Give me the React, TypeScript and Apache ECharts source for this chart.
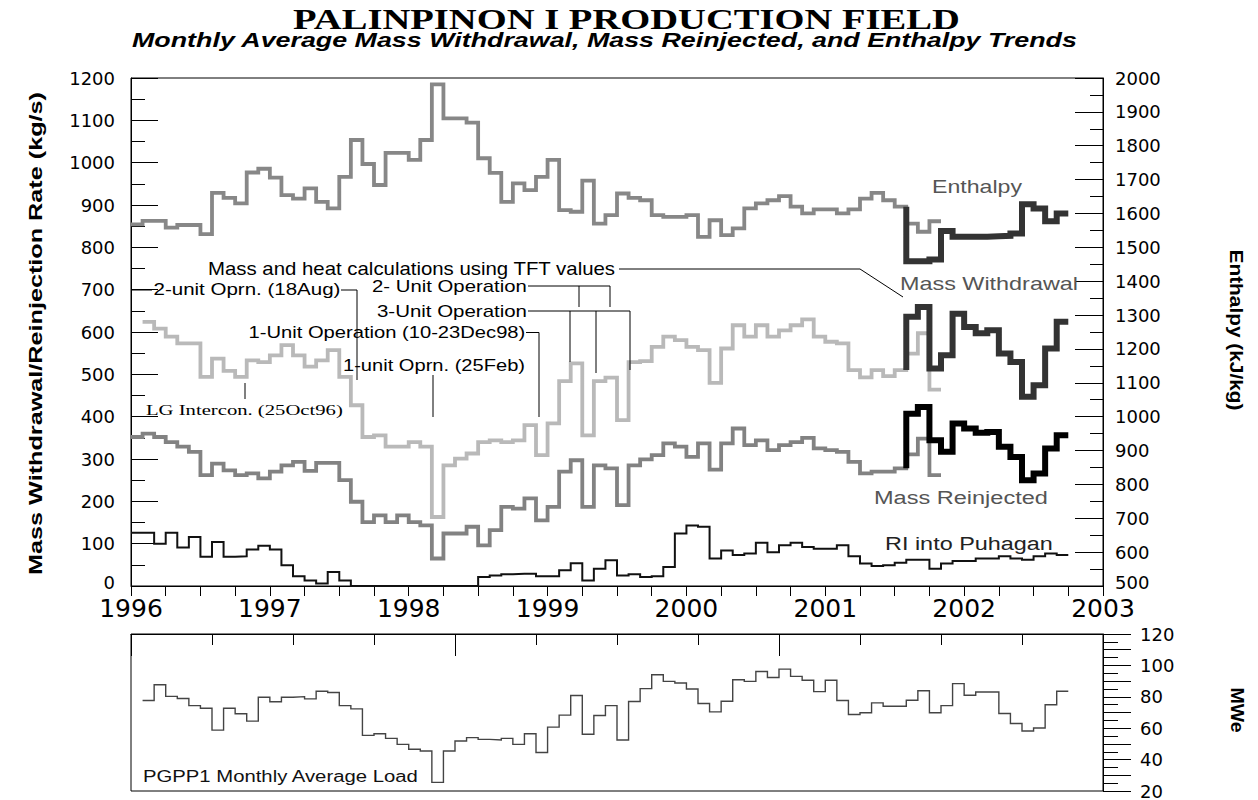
import React, { useEffect, useRef } from "react";
import * as echarts from "echarts";

// ---------- data (months counted from Jan 1996 = 0) ----------
const yearLabels = ["1996", "1997", "1998", "1999", "2000", "2001", "2002", "2003"];

// Enthalpy (kJ/kg), historical calc, months 0..69
const enthalpyStart = 0;
const enthalpy = [
  1568, 1578, 1578, 1558, 1566, 1566, 1539, 1661, 1646, 1630,
  1721, 1732, 1706, 1654, 1644, 1674, 1634, 1615, 1708, 1817,
  1746, 1684, 1779, 1779, 1758, 1817, 1981, 1881, 1881, 1868,
  1763, 1720, 1634, 1689, 1669, 1708, 1758, 1610, 1605, 1697,
  1570, 1595, 1659, 1646, 1639, 1595, 1590, 1590, 1595, 1531,
  1580, 1536, 1556, 1615, 1630, 1639, 1651, 1620, 1600, 1612,
  1612, 1600, 1612, 1644, 1661, 1639, 1620, 1570, 1546, 1577,
];
// Enthalpy using TFT values, months 67..80 (first value = starting level)
const enthalpyTFTStart = 67;
const enthalpyTFTFrom = 1620;
const enthalpyTFT = [1459, 1459, 1464, 1548, 1531, 1531, 1531, 1533, 1534, 1541, 1627, 1615, 1577, 1600];

// Mass withdrawal (kg/s), months 1..69
const withdrawalStart = 1;
const withdrawal = [
  624, 608, 589, 573, 573, 494, 537, 508, 494, 533,
  529, 545, 569, 545, 518, 533, 557, 494, 427, 352,
  356, 329, 329, 340, 329, 163, 285, 301, 313, 340,
  344, 340, 344, 380, 309, 384, 484, 526, 356, 484,
  492, 392, 529, 531, 565, 589, 581, 565, 557, 480,
  561, 616, 589, 616, 589, 604, 616, 630, 589, 577,
  573, 510, 493, 510, 496, 510, 549, 597, 464,
];
const withdrawalTFTStart = 67;
const withdrawalTFTFrom = 510;
const withdrawalTFT = [636, 659, 514, 545, 643, 612, 597, 604, 549, 529, 447, 474, 561, 624];

// Mass reinjected (kg/s), months 0..69
const reinjectedStart = 0;
const reinjected = [
  352, 360, 352, 340, 329, 317, 262, 289, 273, 262,
  266, 254, 270, 285, 293, 272, 291, 291, 250, 199,
  151, 167, 151, 167, 151, 143, 65, 124, 124, 140,
  96, 132, 187, 183, 207, 155, 187, 270, 297, 187,
  285, 278, 191, 285, 299, 309, 337, 329, 305, 337,
  275, 337, 372, 333, 344, 321, 333, 340, 350, 325,
  321, 317, 293, 266, 270, 270, 278, 311, 348, 262,
];
const reinjectedTFTStart = 67;
const reinjectedTFTFrom = 278;
const reinjectedTFT = [407, 423, 344, 317, 384, 372, 362, 364, 329, 305, 250, 266, 325, 356];

// RI into Puhagan (kg/s), months 0..80
const puhaganStart = 0;
const puhagan = [
  126, 126, 100, 126, 91, 116, 69, 104, 69, 70,
  86, 95, 86, 49, 23, 13, 6, 33, 13, 0,
  0, 0, 0, 0, 0, 0, 0, 0, 0, 0,
  21, 25, 28, 29, 29, 23, 23, 37, 54, 13,
  41, 61, 25, 28, 21, 23, 45, 124, 143, 140,
  65, 84, 73, 77, 102, 80, 96, 102, 92, 88,
  88, 96, 70, 53, 47, 49, 55, 62, 62, 41,
  53, 59, 59, 65, 65, 70, 65, 62, 70, 77,
  73,
];

// PGPP1 monthly average load (MWe), months 1..80
const loadStart = 1;
const load = [
  77.6, 87.7, 80.3, 78.9, 74.4, 72.7, 58.8, 72.7, 69.2, 64.5,
  79.7, 76.8, 79.7, 80.1, 78.7, 83.5, 82.7, 74.4, 72.3, 55.4,
  56.5, 53.5, 49.7, 46.6, 45.5, 25.5, 45.5, 51.8, 54, 52.9,
  52.5, 53.5, 49.7, 56.5, 44.5, 60.7, 68.3, 80.8, 56.1, 68.1,
  74.4, 52.5, 77, 85.2, 94, 89.8, 88.8, 85, 75.7, 70.4,
  77.2, 90.9, 89.8, 96.1, 92.3, 97.6, 93, 90.5, 83.3, 90.5,
  77.6, 68.7, 69.8, 76.1, 74, 74, 77.8, 83.9, 69.8, 74.4,
  88.4, 81, 83.1, 83.1, 69.4, 63, 58.2, 60.1, 74.9, 83.5,
];

// ---------- helpers ----------
const SANS = "'Liberation Sans', Arial, Helvetica, sans-serif";
const SERIF = "'Liberation Serif', 'Times New Roman', serif";
const AXISFONT = "'DejaVu Sans', sans-serif";

function stepData(start: number, values: number[], from?: number) {
  const pts: [number, number][] = [];
  if (from !== undefined) pts.push([start, from]);
  values.forEach((v, i) => pts.push([start + i, v]));
  pts.push([start + values.length, values[values.length - 1]]);
  return pts;
}

let measureCtx: CanvasRenderingContext2D | null = null;
function textWidth(text: string, font: string) {
  if (!measureCtx) measureCtx = document.createElement("canvas").getContext("2d");
  if (!measureCtx) return 0;
  measureCtx.font = font;
  return measureCtx.measureText(text).width;
}

type TextSpec = {
  text: string; x: number; y: number; width: number; size: number;
  weight?: string; italic?: boolean; family?: string; color?: string;
  align?: string; rotation?: number;
};

function txt(t: TextSpec) {
  const family = t.family ?? SANS;
  const weight = t.weight ?? "normal";
  const fstyle = t.italic ? "italic" : "normal";
  const font = `${fstyle} ${weight} ${t.size}px ${family}`;
  const w = textWidth(t.text, font);
  const sx = w > 0 ? t.width / w : 1;
  const align = t.align ?? "left";
  return {
    type: "text", x: t.x, y: t.y, rotation: t.rotation ?? 0, scaleX: sx, scaleY: 1,
    z: 100, silent: true,
    style: {
      text: t.text, fill: t.color ?? "#000", font,
      fontSize: t.size, fontFamily: family, fontWeight: weight, fontStyle: fstyle,
      align, verticalAlign: "middle", textAlign: align, textVerticalAlign: "middle",
    },
  };
}

function pl(points: number[][]) {
  return {
    type: "polyline", z: 100, silent: true,
    shape: { points },
    style: { stroke: "#000", lineWidth: 1, fill: null },
  };
}

function stepLine(name: string, data: [number, number][], xi: number, yi: number, color: string, width: number, z: number) {
  return {
    type: "line", name, data, xAxisIndex: xi, yAxisIndex: yi, step: "end",
    symbol: "none", showSymbol: false, silent: true, z,
    lineStyle: { color, width, cap: "butt", join: "miter" },
  };
}

function buildOption() {
  const texts = [
    txt({ text: "PALINPINON I PRODUCTION FIELD", x: 626.5, y: 18.5, width: 667, size: 30, weight: "bold", family: SERIF, align: "center" }),
    txt({ text: "Monthly Average Mass Withdrawal, Mass Reinjected, and Enthalpy Trends", x: 132, y: 40, width: 946, size: 20, weight: "bold", italic: true }),
    txt({ text: "Mass and heat calculations using TFT values", x: 208, y: 268.5, width: 408, size: 18 }),
    txt({ text: "2-unit Oprn. (18Aug)", x: 153.5, y: 289.5, width: 187, size: 17 }),
    txt({ text: "2- Unit Operation", x: 372, y: 286, width: 155, size: 17 }),
    txt({ text: "3-Unit Operation", x: 377, y: 311, width: 150, size: 17 }),
    txt({ text: "1-Unit Operation (10-23Dec98)", x: 248.5, y: 332.5, width: 277, size: 17 }),
    txt({ text: "1-unit Oprn. (25Feb)", x: 343, y: 365, width: 182, size: 17 }),
    txt({ text: "LG Intercon. (25Oct96)", x: 146, y: 410, width: 197, size: 15, family: SERIF }),
    txt({ text: "Enthalpy", x: 932, y: 186, width: 90, size: 18, color: "#555" }),
    txt({ text: "Mass Withdrawal", x: 900, y: 283.5, width: 178, size: 18, color: "#555" }),
    txt({ text: "Mass Reinjected", x: 874, y: 498, width: 174, size: 18, color: "#555" }),
    txt({ text: "RI into Puhagan", x: 885, y: 544, width: 168, size: 18, color: "#222" }),
    txt({ text: "PGPP1 Monthly Average Load", x: 143, y: 776, width: 276, size: 16, color: "#111" }),
    txt({ text: "Mass Withdrawal/Reinjection Rate (kg/s)", x: 36, y: 333.5, width: 483, size: 19, weight: "bold", align: "center", rotation: Math.PI / 2 }),
    txt({ text: "Enthalpy (kJ/kg)", x: 1237, y: 330, width: 161, size: 19, weight: "bold", align: "center", rotation: -Math.PI / 2 }),
    txt({ text: "MWe", x: 1237, y: 710, width: 45, size: 19, weight: "bold", align: "center", rotation: -Math.PI / 2 }),
  ];
  const lines = [
    pl([[619, 269], [860, 269], [903, 297]]),
    pl([[131, 290], [152, 290]]),
    pl([[341, 290], [357, 290], [357, 380]]),
    pl([[528, 286], [610, 286]]),
    pl([[579, 286], [579, 307]]),
    pl([[610, 286], [610, 307]]),
    pl([[528, 311], [630, 311]]),
    pl([[570, 311], [570, 362]]),
    pl([[596, 311], [596, 373]]),
    pl([[630, 311], [630, 370]]),
    pl([[526, 332.5], [539, 332.5], [539, 417]]),
    pl([[433, 375], [433, 417]]),
    pl([[245, 383], [245, 399]]),
  ];

  const black = { color: "#000", width: 1 };
  // lowest label of each main y axis sits a little higher, clear of the year labels
  const yLabel = (minV: number) => ({
    lineHeight: 14, color: "#000", fontSize: 18, fontFamily: AXISFONT,
    formatter: (v: number) => (v === minV ? `{lo|${v}}` : String(v)),
    rich: { lo: { padding: [0, 0, 8, 0], fontSize: 18, fontFamily: AXISFONT, color: "#000", lineHeight: 14 } },
  });
  return {
    animation: false,
    backgroundColor: "#fff",
    grid: [
      { left: 131, top: 78, width: 972, height: 508, show: true, borderColor: "#000", borderWidth: 1, backgroundColor: "transparent" },
      { left: 131, top: 634, width: 972, height: 158, show: true, borderColor: "#000", borderWidth: 1, backgroundColor: "transparent" },
    ],
    xAxis: [
      {
        type: "value", gridIndex: 0, min: 0, max: 84, interval: 12, position: "bottom",
        axisLine: { show: true, onZero: false, lineStyle: black },
        axisTick: { show: true, inside: false, length: 10, lineStyle: black },
        minorTick: { show: true, splitNumber: 4, length: 10, lineStyle: black },
        axisLabel: {
          show: true, margin: 12, lineHeight: 20, color: "#000", fontSize: 25, fontFamily: AXISFONT,
          formatter: (v: number) => yearLabels[Math.round(v / 12)] ?? "",
        },
        splitLine: { show: false }, minorSplitLine: { show: false },
      },
      {
        type: "value", gridIndex: 1, min: 0, max: 84, interval: 28, position: "top",
        axisLine: { show: true, onZero: false, lineStyle: black },
        axisTick: { show: true, inside: true, length: 22, lineStyle: black },
        minorTick: { show: true, splitNumber: 4, length: 11, lineStyle: black },
        axisLabel: { show: false },
        splitLine: { show: false }, minorSplitLine: { show: false },
      },
    ],
    yAxis: [
      {
        type: "value", gridIndex: 0, position: "left", min: 0, max: 1200, interval: 100,
        axisLine: { show: true, onZero: false, lineStyle: black },
        axisTick: { show: true, inside: true, length: 27, lineStyle: black },
        minorTick: { show: true, splitNumber: 2, length: 14, lineStyle: black },
        axisLabel: { margin: 16, ...yLabel(0) },
        splitLine: { show: false }, minorSplitLine: { show: false },
      },
      {
        type: "value", gridIndex: 0, position: "right", min: 500, max: 2000, interval: 100,
        axisLine: { show: true, onZero: false, lineStyle: black },
        axisTick: { show: true, inside: true, length: 28, lineStyle: black },
        minorTick: { show: true, splitNumber: 2, length: 13, lineStyle: black },
        axisLabel: { margin: 12, ...yLabel(500) },
        splitLine: { show: false }, minorSplitLine: { show: false },
      },
      {
        type: "value", gridIndex: 1, position: "right", min: 20, max: 120, interval: 10,
        axisLine: { show: true, onZero: false, lineStyle: black },
        axisTick: { show: true, inside: false, length: 28, lineStyle: black },
        minorTick: { show: true, splitNumber: 2, length: 15, lineStyle: black },
        axisLabel: {
          margin: 37, lineHeight: 14, color: "#000", fontSize: 18, fontFamily: AXISFONT,
          formatter: (v: number) => (v % 20 === 0 ? String(v) : ""),
        },
        splitLine: { show: false }, minorSplitLine: { show: false },
      },
    ],
    series: [
      stepLine("Enthalpy", stepData(enthalpyStart, enthalpy), 0, 1, "#878787", 3.8, 2),
      stepLine("Mass Withdrawal", stepData(withdrawalStart, withdrawal), 0, 0, "#b9b9b9", 3.8, 2),
      stepLine("Mass Reinjected", stepData(reinjectedStart, reinjected), 0, 0, "#828282", 3.8, 2),
      stepLine("RI into Puhagan", stepData(puhaganStart, puhagan), 0, 0, "#111", 2, 3),
      stepLine("Enthalpy (TFT)", stepData(enthalpyTFTStart, enthalpyTFT, enthalpyTFTFrom), 0, 1, "#333", 6, 4),
      stepLine("Mass Withdrawal (TFT)", stepData(withdrawalTFTStart, withdrawalTFT, withdrawalTFTFrom), 0, 0, "#333", 6, 4),
      stepLine("Mass Reinjected (TFT)", stepData(reinjectedTFTStart, reinjectedTFT, reinjectedTFTFrom), 0, 0, "#000", 6, 4),
      stepLine("PGPP1 Load", stepData(loadStart, load), 1, 2, "#444", 1.4, 3),
    ],
    graphic: [...lines, ...texts],
  };
}

export default function App() {
  const ref = useRef<HTMLDivElement>(null);
  useEffect(() => {
    if (!ref.current) return;
    const chart = echarts.init(ref.current, undefined, { renderer: "svg", width: 1258, height: 800 });
    chart.setOption(buildOption() as any);
    return () => chart.dispose();
  }, []);
  return (
    <div
      ref={ref}
      style={{ position: "fixed", left: 0, top: 0, width: 1258, height: 800, background: "#fff" }}
    />
  );
}
